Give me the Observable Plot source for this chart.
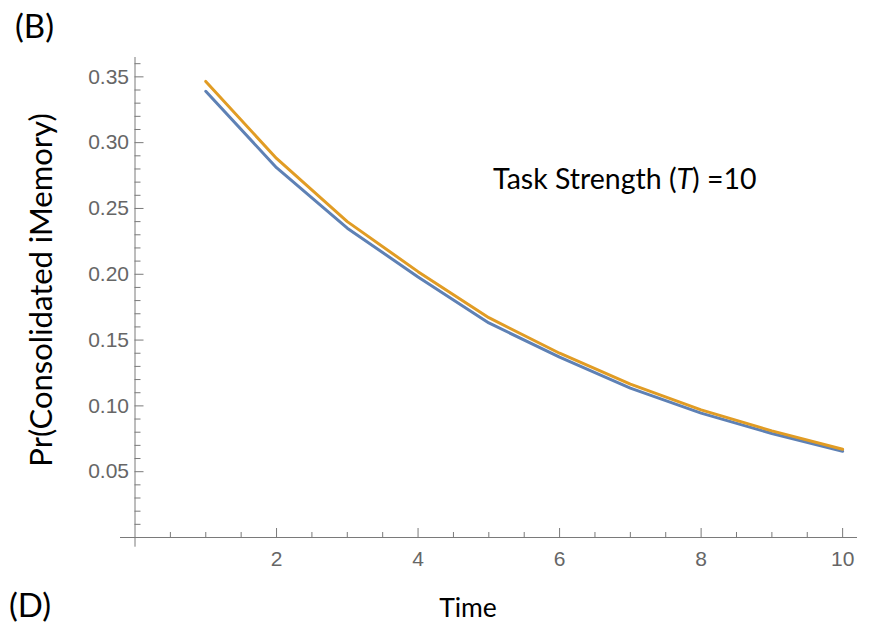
<!DOCTYPE html>
<html>
<head>
<meta charset="utf-8">
<script src="https://cdn.jsdelivr.net/npm/d3@7"></script>
<script src="https://cdn.jsdelivr.net/npm/@observablehq/plot@0.6"></script>
<style>
  html, body { margin: 0; padding: 0; background: #fff; }
  #chart { width: 872px; height: 627px; }
</style>
</head>
<body>
<div id="chart"></div>
<script>
// ---- data ----
const time = [1, 2, 3, 4, 5, 6, 7, 8, 9, 10];
const seriesLower = [0.339, 0.281, 0.235, 0.198, 0.163, 0.137, 0.1135, 0.0945, 0.079, 0.0655];
const seriesUpper = [0.3465, 0.288, 0.240, 0.202, 0.167, 0.140, 0.1165, 0.097, 0.081, 0.067];
const seriesNames = ["lower", "upper"];
const seriesColors = ["#5E81B5", "#E19C24"];
const xMajorTicks = [2, 4, 6, 8, 10];
const xMinorTicks = [0.5, 1, 1.5, 2.5, 3, 3.5, 4.5, 5, 5.5, 6.5, 7, 7.5, 8.5, 9, 9.5];
const yMajorTicks = [0.05, 0.10, 0.15, 0.20, 0.25, 0.30, 0.35];
const yMinorTicks = [0.01, 0.02, 0.03, 0.04, 0.06, 0.07, 0.08, 0.09, 0.11, 0.12, 0.13, 0.14,
                     0.16, 0.17, 0.18, 0.19, 0.21, 0.22, 0.23, 0.24, 0.26, 0.27, 0.28, 0.29,
                     0.31, 0.32, 0.33, 0.34, 0.36];
const xTickLabels = ["2", "4", "6", "8", "10"];
const yTickLabels = ["0.05", "0.10", "0.15", "0.20", "0.25", "0.30", "0.35"];
const annotation = "Task Strength (T) =10";

const rows = [];
time.forEach((t, i) => rows.push({t, v: seriesLower[i], s: seriesNames[0]}));
time.forEach((t, i) => rows.push({t, v: seriesUpper[i], s: seriesNames[1]}));

const axisColor = "#7a7a7a";
const labelColor = "#666666";
const tickFont = "'Liberation Sans', Arial, sans-serif";

const plot = Plot.plot({
  width: 872,
  height: 627,
  marginLeft: 120,
  marginRight: 15,
  marginTop: 57,
  marginBottom: 90,
  x: {domain: [-0.205, 10.21], axis: null},
  y: {domain: [0, 0.3647], axis: null},
  color: {domain: seriesNames, range: seriesColors},
  style: {background: "white"},
  marks: [
    // axis lines
    Plot.ruleY([0], {stroke: axisColor, strokeWidth: 1}),
    Plot.ruleX([0], {stroke: axisColor, strokeWidth: 1, insetBottom: -9.7}),
    // x ticks
    Plot.ruleX(xMajorTicks, {x: d => d, y1: 0, y2: 0, insetTop: -9, stroke: axisColor}),
    Plot.ruleX(xMinorTicks, {x: d => d, y1: 0, y2: 0, insetTop: -5, stroke: axisColor}),
    // y ticks
    Plot.ruleY(yMajorTicks, {y: d => d, x1: 0, x2: 0, insetRight: -9, stroke: axisColor}),
    Plot.ruleY(yMinorTicks, {y: d => d, x1: 0, x2: 0, insetRight: -6, stroke: axisColor}),
    // tick labels
    Plot.text(xMajorTicks, {x: d => d, y: 0, text: (d, i) => xTickLabels[i], dy: 22,
      fill: labelColor, fontSize: 21, fontFamily: tickFont, textAnchor: "middle"}),
    Plot.text(yMajorTicks, {x: 0, y: d => d, text: (d, i) => yTickLabels[i], dx: -6,
      fill: labelColor, fontSize: 21, fontFamily: tickFont, textAnchor: "end"}),
    // lines
    Plot.line(rows, {x: "t", y: "v", z: "s", stroke: "s", strokeWidth: 3, curve: "linear"}),
    // annotation
    Plot.text([annotation], {x: 5.06, y: 0.272, text: d => d, textAnchor: "start",
      fontSize: 28.5, fontFamily: "Lato, sans-serif", fill: "#000"})
  ]
});

document.getElementById("chart").appendChild(plot);

const svg = d3.select(plot);
// italic T in annotation
svg.selectAll("text").filter(function() { return this.textContent === annotation; })
  .each(function() {
    const el = d3.select(this);
    el.text(null);
    el.append("tspan").text("Task Strength (");
    el.append("tspan").attr("font-style", "italic").text("T");
    el.append("tspan").text(") =10");
  });

const font = "Lato, sans-serif";
svg.append("text").attr("x", 15).attr("y", 38).attr("text-anchor", "start")
  .attr("font-family", font).attr("font-size", 33).attr("fill", "#000").text("(B)");
svg.append("text").attr("x", 9).attr("y", 617).attr("text-anchor", "start")
  .attr("font-family", font).attr("font-size", 33).attr("fill", "#000").text("(D)");
svg.append("text").attr("x", 468).attr("y", 617).attr("text-anchor", "middle")
  .attr("font-family", font).attr("font-size", 26.5).attr("fill", "#000").text("Time");
svg.append("text").attr("transform", "translate(52,290) rotate(-90)")
  .attr("text-anchor", "middle").attr("font-family", font).attr("font-size", 31)
  .attr("fill", "#000").text("Pr(Consolidated iMemory)");
</script>
</body>
</html>
